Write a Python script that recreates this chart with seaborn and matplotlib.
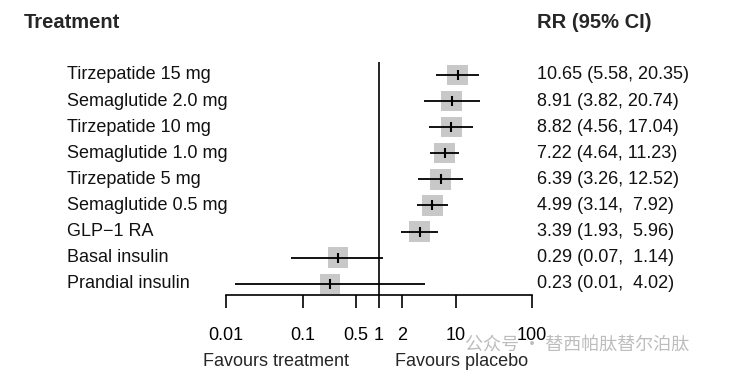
import numpy as np
import pandas as pd
import seaborn as sns
import matplotlib.pyplot as plt
import matplotlib.transforms as mtransforms
from matplotlib.ticker import NullLocator

# Données du forest plot
treatments = ["Tirzepatide 15 mg", "Semaglutide 2.0 mg", "Tirzepatide 10 mg",
              "Semaglutide 1.0 mg", "Tirzepatide 5 mg", "Semaglutide 0.5 mg",
              "GLP\u22121 RA", "Basal insulin", "Prandial insulin"]
rr = [10.65, 8.91, 8.82, 7.22, 6.39, 4.99, 3.39, 0.29, 0.23]
lower = [5.58, 3.82, 4.56, 4.64, 3.26, 3.14, 1.93, 0.07, 0.013]
upper = [20.35, 20.74, 17.04, 11.23, 12.52, 7.92, 5.96, 1.14, 4.02]
tick_values = [0.01, 0.1, 0.5, 1, 2, 10, 100]
tick_labels = ["0.01", "0.1", "0.5", "1", "2", "10", "100"]

df = pd.DataFrame({"treatment": treatments, "rr": rr, "lower": lower, "upper": upper})
df["row"] = np.arange(len(df))
df["label"] = [f"{r:.2f} ({l:.2f}, {u:5.2f})" for r, l, u in zip(rr, lower, upper)]

sns.set_style("white")
plt.rcParams["font.family"] = ["Liberation Sans", "DejaVu Sans"]

W, H = 749, 392
fig = plt.figure(figsize=(W / 100, H / 100), dpi=100)
ax = fig.add_axes([226 / W, 1 - 295 / H, 306 / W, (295 - 40) / H])
ax.set_xscale("log")
ax.set_xlim(0.01, 100)
ax.set_ylim(8.43, -1.34)

# carrés gris
sns.scatterplot(data=df, x="rr", y="row", marker="s", s=215, color="#c8c8c8",
                edgecolor="none", ax=ax, zorder=1, legend=False)
# intervalles de confiance
ax.hlines(df["row"], df["lower"], df["upper"], color="black", lw=1.3, zorder=3)
sns.scatterplot(data=df, x="rr", y="row", marker="|", s=50, color="black",
                linewidth=1.5, ax=ax, zorder=4, legend=False)
ax.vlines(1, -0.5, 8.43, color="black", lw=1.2, zorder=2)

for s in ["top", "right", "left"]:
    ax.spines[s].set_visible(False)
ax.spines["bottom"].set_linewidth(1.2)
ax.spines["bottom"].set_color("black")
ax.set_xticks(tick_values)
ax.set_xticklabels(tick_labels)
ax.xaxis.set_minor_locator(NullLocator())
ax.tick_params(axis="x", bottom=True, direction="out", length=9.4, width=1.2,
               pad=14, labelsize=13, colors="black")
ax.set_yticks([])
ax.set_xlabel("")
ax.set_ylabel("")

# colonnes de texte
trans = mtransforms.blended_transform_factory(fig.transFigure, ax.transData)
for _, r in df.iterrows():
    ax.text(67 / W, r["row"], r["treatment"], transform=trans, va="center",
            ha="left", fontsize=13, color="#111111")
    ax.text(537 / W, r["row"], r["label"], transform=trans, va="center",
            ha="left", fontsize=13, color="#111111")

fig.text(24 / W, 1 - 23 / H, "Treatment", fontsize=14.5, fontweight="bold", va="center")
fig.text(537 / W, 1 - 23 / H, "RR (95% CI)", fontsize=14.5, fontweight="bold", va="center")
fig.text(276 / W, 1 - 361 / H, "Favours treatment", fontsize=13, ha="center", va="center")
fig.text(462 / W, 1 - 361 / H, "Favours placebo", fontsize=13, ha="center", va="center")

# filigrane
fig.text(465 / W, 1 - 346 / H, "公众号 · 替西帕肽替尔泊肽", fontsize=13, color="#bdbdbd",
         va="center", ha="left", family=["Noto Sans CJK SC", "DejaVu Sans"], zorder=10)

fig.savefig("out.png", dpi=100)
